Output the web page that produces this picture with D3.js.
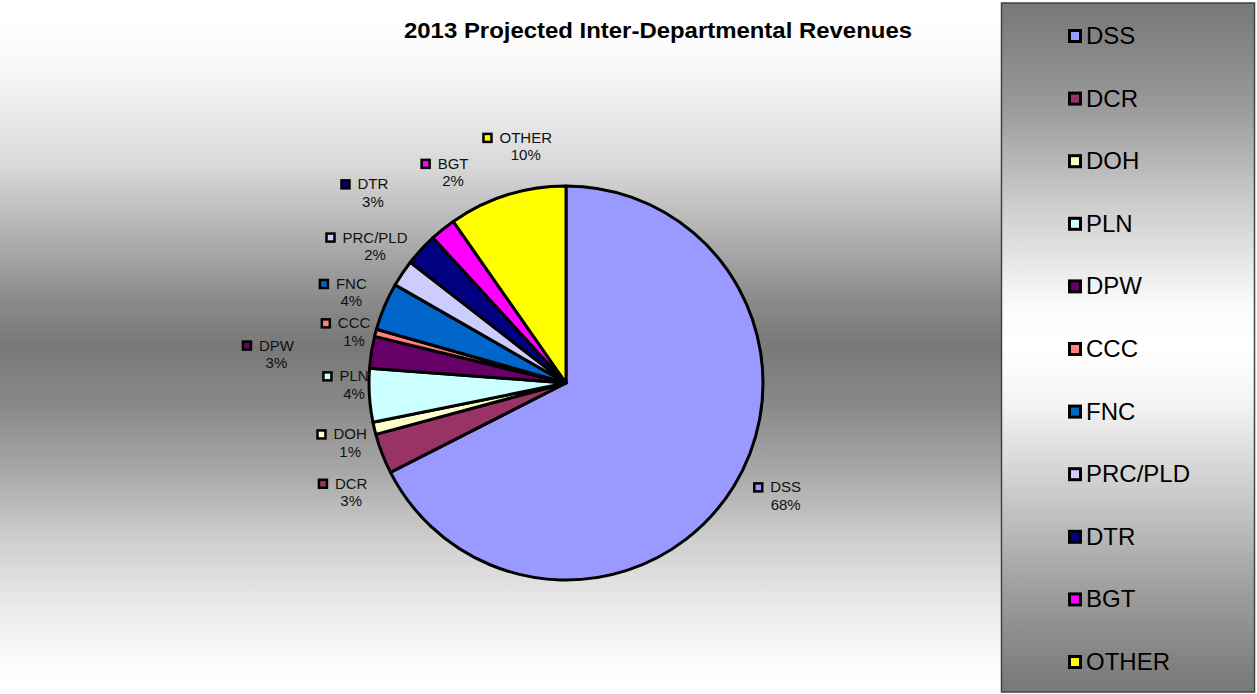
<!DOCTYPE html>
<html>
<head>
<meta charset="utf-8">
<script src="https://cdn.jsdelivr.net/npm/d3@7"></script>
<style>
  html, body { margin: 0; padding: 0; background: #fff; }
  svg { display: block; }
  text { font-family: "Liberation Sans", Arial, Helvetica, sans-serif; }
</style>
</head>
<body>
<svg id="chart" width="1257" height="694"></svg>
<script>
// ---- data ----
const categories = ["DSS", "DCR", "DOH", "PLN", "DPW", "CCC", "FNC", "PRC/PLD", "DTR", "BGT", "OTHER"];
const values     = [67.5, 3.3, 1.0, 4.4, 2.6, 0.6, 3.9, 2.2, 2.7, 2.1, 9.7];
const colors     = ["#9999FF", "#993366", "#FFFFCC", "#CCFFFF", "#660066", "#FF8080", "#0066CC", "#CCCCFF", "#000080", "#FF00FF", "#FFFF00"];
const title = "2013 Projected Inter-Departmental Revenues";

// ---- layout (label placement around the pie: radius, angle offset in degrees) ----
const labelPlacement = {
  "DSS":     [247, -4.3],
  "DCR":     [241, -5.9],
  "DOH":     [224, -2.2],
  "PLN":     [212,  3.1],
  "DPW":     [291, -3.3],
  "CCC":     [218, -1.2],
  "FNC":     [233,  0.0],
  "PRC/PLD": [235,  1.8],
  "DTR":     [271,  1.9],
  "BGT":     [239, 10.5],
  "OTHER":   [240,  7.8]
};

const svg = d3.select("#chart");
const defs = svg.append("defs");

// plot-area background gradient
const bg = defs.append("linearGradient").attr("id", "bgGrad")
  .attr("x1", 0).attr("y1", 0).attr("x2", 0).attr("y2", 1);
[[0, "#ffffff"], [0.03, "#ffffff"], [0.12, "#f4f4f4"], [0.24, "#d8d8d8"], [0.36, "#a8a8a8"],
 [0.44, "#888888"], [0.50, "#787878"], [0.58, "#888888"], [0.68, "#a8a8a8"], [0.78, "#cfcfcf"],
 [0.88, "#ececec"], [0.96, "#fdfdfd"], [1, "#ffffff"]]
  .forEach(([o, c]) => bg.append("stop").attr("offset", o).attr("stop-color", c));

// legend gradient
const lg = defs.append("linearGradient").attr("id", "legGrad")
  .attr("x1", 0).attr("y1", 0).attr("x2", 0).attr("y2", 1);
[[0, "#777777"], [0.15, "#9a9a9a"], [0.3, "#cfcfcf"], [0.44, "#fbfbfb"], [0.5, "#ffffff"],
 [0.58, "#f4f4f4"], [0.72, "#c8c8c8"], [0.86, "#9c9c9c"], [1, "#777777"]]
  .forEach(([o, c]) => lg.append("stop").attr("offset", o).attr("stop-color", c));

svg.append("rect").attr("x", 0).attr("y", 0).attr("width", 1001).attr("height", 694)
  .attr("fill", "url(#bgGrad)");

// title
svg.append("text")
  .attr("x", 658).attr("y", 37.5)
  .attr("text-anchor", "middle")
  .attr("font-size", 22).attr("font-weight", "bold")
  .attr("textLength", 508).attr("lengthAdjust", "spacingAndGlyphs")
  .attr("fill", "#000")
  .text(title);

// pie
const cx = 566, cy = 383, R = 197;
const data = categories.map((c, i) => ({ name: c, value: values[i], color: colors[i] }));
const total = d3.sum(values);
const pie = d3.pie().sort(null).value(d => d.value);
const arcs = pie(data);
const arc = d3.arc().innerRadius(0).outerRadius(R);

const g = svg.append("g").attr("transform", `translate(${cx},${cy})`);
g.selectAll("path.slice").data(arcs).join("path")
  .attr("class", "slice")
  .attr("d", arc)
  .attr("fill", d => d.data.color)
  .attr("stroke", "#000")
  .attr("stroke-width", 3)
  .attr("stroke-linejoin", "round");

// data labels
const lblG = g.append("g");
arcs.forEach(d => {
  const [rad, off] = labelPlacement[d.data.name];
  const ang = (d.startAngle + d.endAngle) / 2 + off * Math.PI / 180;
  const ax = rad * Math.sin(ang), ay = -rad * Math.cos(ang);
  const pct = Math.round(d.data.value / total * 100) + "%";
  const grp = lblG.append("g");
  const nameT = grp.append("text")
    .attr("x", ax).attr("y", ay - 3.5)
    .attr("text-anchor", "middle")
    .attr("font-size", 15).attr("fill", "#111")
    .text(d.data.name);
  grp.append("text")
    .attr("x", ax).attr("y", ay + 14)
    .attr("text-anchor", "middle")
    .attr("font-size", 15).attr("fill", "#111")
    .text(pct);
  const w = nameT.node().getComputedTextLength();
  grp.append("rect")
    .attr("x", ax - w / 2 - 12 - 4).attr("y", ay - 3.5 - 5 - 4)
    .attr("width", 8).attr("height", 8)
    .attr("fill", d.data.color)
    .attr("stroke", "#000").attr("stroke-width", 2.5);
});

// legend
svg.append("rect").attr("x", 1001.5).attr("y", 3).attr("width", 1254.5 - 1001.5).attr("height", 689)
  .attr("fill", "url(#legGrad)").attr("stroke", "#444").attr("stroke-width", 1.5);

const ly = d3.scalePoint().domain(categories).range([36, 662]);
const leg = svg.append("g").selectAll("g").data(data).join("g")
  .attr("transform", d => `translate(1075,${ly(d.name)})`);
leg.append("rect")
  .attr("x", -5.5).attr("y", -5.5).attr("width", 11).attr("height", 11)
  .attr("fill", d => d.color).attr("stroke", "#000").attr("stroke-width", 3);
leg.append("text")
  .attr("x", 11).attr("y", 8)
  .attr("font-size", 24).attr("fill", "#000")
  .text(d => d.name);
</script>
</body>
</html>
